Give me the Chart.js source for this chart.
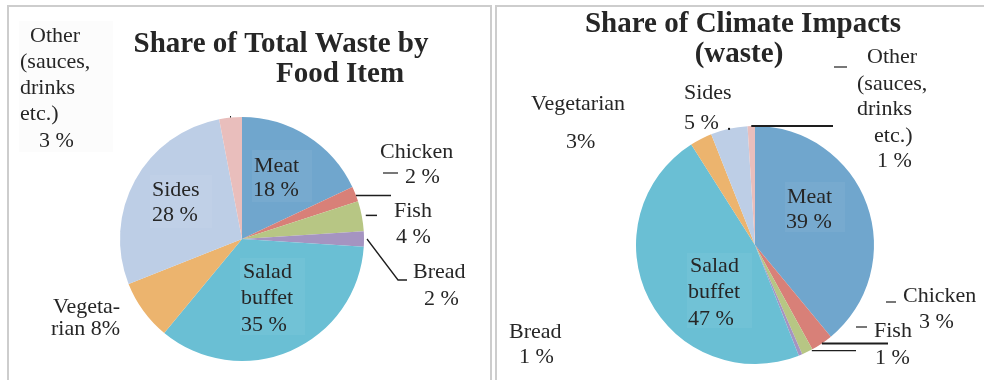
<!DOCTYPE html>
<html>
<head>
<meta charset="utf-8">
<script src="https://cdn.jsdelivr.net/npm/chart.js@4.4.0/dist/chart.umd.min.js"></script>
<style>
    body { margin: 0; background: #fff; width: 984px; height: 380px; overflow: hidden; position: relative; }
    .panel { position: absolute; border: 2px solid #cdcdcd; border-bottom: none; }
    canvas { position: absolute; top: 0; }
</style>
</head>
<body>
<div class="panel" style="left:7px; top:5px; width:481px; height:400px;"></div>
<div class="panel" style="left:495px; top:5px; width:500px; height:400px; border-right:none;"></div>
<canvas id="wasteChart" width="492" height="380" style="left:0"></canvas>
<canvas id="climateChart" width="492" height="380" style="left:492px"></canvas>
<script>
// Data
const foodItems = ['Meat', 'Chicken', 'Fish', 'Bread', 'Salad buffet', 'Vegetarian', 'Sides', 'Other (sauces, drinks etc.)'];
const wasteShare = [18, 2, 4, 2, 35, 8, 28, 3];
const climateShare = [39, 3, 1.5, 0.5, 47, 3, 5, 1];
const sliceColors = ['#70a6cd', '#d88078', '#b7c684', '#a594c1', '#6abfd4', '#ecb46e', '#bdcee6', '#e9bebc'];

const labelFont = '22px "Liberation Serif", serif';
const titleFont = 'bold 29px "Liberation Serif", serif';

// Draws titles, labels, leader lines on top of the pie
const annotate = {
    id: 'annotate',
    afterDraw(chart, args, opts) {
        const ctx = chart.ctx;
        const arcs = chart.getDatasetMeta(0).data;
        ctx.save();

        (opts.boxes || []).forEach(b => {
            ctx.fillStyle = b.c;
            ctx.fillRect(b.x, b.y, b.w, b.h);
        });

        ctx.strokeStyle = '#1e1e1e';
        ctx.fillStyle = '#1e1e1e';
        (opts.leaders || []).forEach(l => {
            const a = arcs[l.i];
            const ang = a.startAngle + (a.endAngle - a.startAngle) * (l.f ?? 0.5);
            const r = a.outerRadius + (l.gap || 0);
            let x = a.x + r * Math.cos(ang);
            let y = a.y + r * Math.sin(ang);
            if (l.dot) {
                ctx.fillRect(x - 1, y - 1, 2, 2);
                return;
            }
            ctx.lineWidth = l.w || 1.5;
            ctx.beginPath();
            ctx.moveTo(x, y);
            l.pts.forEach(p => {
                x = p[0] ?? x;
                y = p[1] ?? y;
                ctx.lineTo(x, y);
            });
            ctx.stroke();
        });

        ctx.lineWidth = 1.2;
        (opts.dashes || []).forEach(d => {
            ctx.beginPath();
            ctx.moveTo(d[0], d[2]);
            ctx.lineTo(d[1], d[2]);
            ctx.stroke();
        });

        ctx.fillStyle = '#262626';
        ctx.textBaseline = 'alphabetic';
        (opts.texts || []).forEach(t => {
            ctx.font = t.font || labelFont;
            ctx.textAlign = t.align || 'left';
            ctx.fillText(t.s, t.x, t.y);
        });
        ctx.restore();
    }
};

function makePie(id, values, pad, extras) {
    return new Chart(document.getElementById(id), {
        type: 'pie',
        data: {
            labels: foodItems,
            datasets: [{
                data: values,
                backgroundColor: sliceColors,
                borderWidth: 0
            }]
        },
        options: {
            responsive: false,
            animation: false,
            devicePixelRatio: 1,
            layout: { padding: pad },
            plugins: {
                legend: { display: false },
                tooltip: { enabled: false },
                annotate: extras
            }
        },
        plugins: [annotate]
    });
}

makePie('wasteChart', wasteShare, { left: 120, right: 128, top: 117, bottom: 19 }, {
    boxes: [
        { x: 19, y: 21, w: 94, h: 131, c: 'rgba(0,0,0,0.012)' },
        { x: 252, y: 150, w: 60, h: 52, c: 'rgba(255,255,255,0.05)' },
        { x: 150, y: 175, w: 62, h: 53, c: 'rgba(255,255,255,0.05)' },
        { x: 240, y: 258, w: 65, h: 77, c: 'rgba(255,255,255,0.05)' }
    ],
    leaders: [
        { i: 1, f: 0.6, pts: [[391, null]] },
        { i: 2, gap: 4, pts: [[377, null]] },
        { i: 3, gap: 3, pts: [[398, 280], [407, 280]], w: 1.3 },
        { i: 7, gap: 0, pts: [[null, 116]], w: 1 }
    ],
    dashes: [[383, 398, 173]],
    texts: [
        { s: 'Share of Total Waste by', x: 281, y: 52, align: 'center', font: titleFont },
        { s: 'Food Item', x: 340, y: 82, align: 'center', font: titleFont },
        { s: 'Other', x: 30, y: 42 },
        { s: '(sauces,', x: 20, y: 68 },
        { s: 'drinks', x: 20, y: 94 },
        { s: 'etc.)', x: 20, y: 120 },
        { s: '3 %', x: 39, y: 147 },
        { s: 'Chicken', x: 380, y: 158 },
        { s: '2 %', x: 405, y: 183 },
        { s: 'Fish', x: 394, y: 217 },
        { s: '4 %', x: 396, y: 243 },
        { s: 'Bread', x: 413, y: 278 },
        { s: '2 %', x: 424, y: 305 },
        { s: 'Meat', x: 254, y: 172 },
        { s: '18 %', x: 253, y: 196 },
        { s: 'Sides', x: 152, y: 196 },
        { s: '28 %', x: 152, y: 221 },
        { s: 'Salad', x: 243, y: 278 },
        { s: 'buffet', x: 241, y: 304 },
        { s: '35 %', x: 241, y: 331 },
        { s: 'Vegeta-', x: 53, y: 313 },
        { s: 'rian 8%', x: 51, y: 335 }
    ]
});

makePie('climateChart', climateShare, { left: 144, right: 110, top: 126, bottom: 16 }, {
    boxes: [
        { x: 293, y: 182, w: 60, h: 50, c: 'rgba(255,255,255,0.05)' },
        { x: 195, y: 253, w: 65, h: 75, c: 'rgba(255,255,255,0.05)' }
    ],
    leaders: [
        { i: 7, pts: [[341, null]], w: 2 },
        { i: 1, pts: [[396, null]], w: 2 },
        { i: 2, f: 0.1, gap: 1, pts: [[364, null]], w: 1.3 },
        { i: 6, dot: true }
    ],
    dashes: [[342, 355, 67], [394, 404, 302], [364, 375, 327]],
    texts: [
        { s: 'Share of Climate Impacts', x: 251, y: 32, align: 'center', font: titleFont },
        { s: '(waste)', x: 247, y: 62, align: 'center', font: titleFont },
        { s: 'Vegetarian', x: 39, y: 110 },
        { s: '3%', x: 74, y: 148 },
        { s: 'Sides', x: 192, y: 99 },
        { s: '5 %', x: 192, y: 129 },
        { s: 'Other', x: 375, y: 63 },
        { s: '(sauces,', x: 365, y: 90 },
        { s: 'drinks', x: 365, y: 115 },
        { s: 'etc.)', x: 382, y: 142 },
        { s: '1 %', x: 385, y: 167 },
        { s: 'Meat', x: 295, y: 203 },
        { s: '39 %', x: 294, y: 228 },
        { s: 'Salad', x: 198, y: 272 },
        { s: 'buffet', x: 196, y: 298 },
        { s: '47 %', x: 196, y: 325 },
        { s: 'Chicken', x: 411, y: 302 },
        { s: '3 %', x: 427, y: 328 },
        { s: 'Fish', x: 382, y: 337 },
        { s: '1 %', x: 383, y: 364 },
        { s: 'Bread', x: 17, y: 338 },
        { s: '1 %', x: 27, y: 363 }
    ]
});
</script>
</body>
</html>
